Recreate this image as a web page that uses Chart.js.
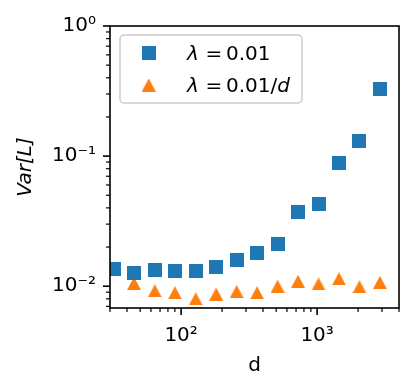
<!DOCTYPE html>
<html lang="en">
<head>
<meta charset="UTF-8">
<title>Var[L] vs d</title>
<script src="https://cdn.jsdelivr.net/npm/chart.js"></script>
<style>
  body { margin: 0; background: #fff; }
</style>
</head>
<body>
<canvas id="varChart" width="415" height="391"></canvas>
<script>
// values
const dims = [32, 45, 64, 90, 128, 181, 256, 362, 512, 724, 1024, 1448, 2048, 2896];
const varConst = [0.0136, 0.0126, 0.0134, 0.0131, 0.0132, 0.0140, 0.0160, 0.0180, 0.0210, 0.0372, 0.0427, 0.0888, 0.131, 0.327];
const varScaled = [0.0134, 0.0105, 0.0092, 0.0089, 0.0080, 0.0087, 0.0091, 0.0089, 0.0100, 0.0109, 0.0104, 0.0114, 0.0099, 0.0107];
const xTickVals = [100, 1000];
const xTickLabels = ['10²', '10³'];
const yTickVals = [0.01, 0.1, 1];
const yTickLabels = ['10⁻²', '10⁻¹', '10⁰'];

const BLUE = '#1f77b4', ORANGE = '#ff7f0e';
const FONT = 'DejaVu Sans';

function marker(shape, color, w, h) {
  const c = document.createElement('canvas');
  c.width = w; c.height = h;
  const g = c.getContext('2d');
  g.fillStyle = color;
  if (shape === 'square') {
    g.fillRect(0, 0, w, h);
  } else {
    g.beginPath();
    g.moveTo(w / 2, 0); g.lineTo(w, h); g.lineTo(0, h);
    g.closePath(); g.fill();
  }
  return c;
}
const squareMk = marker('square', BLUE, 14, 14);
const triMk = marker('triangle', ORANGE, 14, 13);

// 1..9 x 10^n ticks inside the axis range
function logTicks(scale) {
  const out = [];
  const lo = Math.floor(Math.log10(scale.min)), hi = Math.ceil(Math.log10(scale.max));
  for (let e = lo; e <= hi; e++) {
    for (let m = 1; m < 10; m++) {
      const v = +(m * Math.pow(10, e)).toPrecision(6);
      if (v >= scale.min * 0.9999 && v <= scale.max * 1.0001) out.push({ value: v });
    }
  }
  scale.ticks = out;
}

const axisTicks = {
  id: 'axisTicks',
  afterDatasetsDraw(chart) {
    const { ctx, chartArea: a, scales } = chart;
    ctx.save();
    ctx.strokeStyle = '#000';
    scales.x.ticks.forEach(t => {
      const major = xTickVals.includes(t.value);
      const px = scales.x.getPixelForValue(t.value);
      ctx.lineWidth = major ? 1.6 : 1.2;
      ctx.beginPath();
      ctx.moveTo(px, a.bottom);
      ctx.lineTo(px, a.bottom + (major ? 7 : 4));
      ctx.stroke();
    });
    scales.y.ticks.forEach(t => {
      const major = yTickVals.includes(t.value);
      const py = scales.y.getPixelForValue(t.value);
      ctx.lineWidth = major ? 1.6 : 1.2;
      ctx.beginPath();
      ctx.moveTo(a.left, py);
      ctx.lineTo(a.left - (major ? 7 : 4), py);
      ctx.stroke();
    });
    ctx.lineWidth = 1.6;
    ctx.strokeRect(a.left, a.top, a.right - a.left, a.bottom - a.top);
    ctx.restore();
  }
};

// legend with mathtext-like italics
const mathLegend = {
  id: 'mathLegend',
  afterDraw(chart) {
    const ctx = chart.ctx;
    ctx.save();
    ctx.beginPath();
    ctx.roundRect(120, 35, 182, 68, 4);
    ctx.fillStyle = 'rgba(255,255,255,0.8)';
    ctx.fill();
    ctx.strokeStyle = '#cccccc';
    ctx.lineWidth = 1.5;
    ctx.stroke();

    ctx.drawImage(squareMk, 148.7 - 7, 53 - 7);
    ctx.drawImage(triMk, 148.7 - 7, 85 - 6.5);

    ctx.fillStyle = '#000';
    ctx.textBaseline = 'alphabetic';
    const rows = [[60, false], [92, true]];
    rows.forEach(([base, perD]) => {
      ctx.font = `italic 20px ${FONT}`;
      ctx.fillText('λ', 187, base);
      ctx.font = `20px ${FONT}`;
      ctx.fillText('=', 205.5, base);
      let x = 226;
      ctx.fillText('0.01', x, base);
      if (perD) {
        x += ctx.measureText('0.01').width;
        ctx.fillText('/', x, base);
        x += ctx.measureText('/').width;
        ctx.font = `italic 20px ${FONT}`;
        ctx.fillText('d', x, base);
      }
    });
    ctx.restore();
  }
};

const ctx = document.getElementById('varChart').getContext('2d');
new Chart(ctx, {
  type: 'scatter',
  data: {
    datasets: [
      {
        label: 'λ = 0.01',
        data: dims.map((d, i) => ({ x: d, y: varConst[i] })),
        pointStyle: squareMk,
        pointRadius: 7,
        clip: 0
      },
      {
        label: 'λ = 0.01/d',
        data: dims.map((d, i) => ({ x: d, y: varScaled[i] })),
        pointStyle: triMk,
        pointRadius: 7,
        clip: 0
      }
    ]
  },
  options: {
    responsive: false,
    animation: false,
    devicePixelRatio: 1,
    layout: { padding: { top: 24, right: 15, left: 0, bottom: 0 } },
    plugins: { legend: { display: false }, tooltip: { enabled: false } },
    scales: {
      x: {
        type: 'logarithmic',
        min: 30,
        max: 4000,
        grid: { display: false, drawTicks: false },
        border: { display: false },
        afterBuildTicks: logTicks,
        afterFit: s => { s.height = 83; },
        ticks: {
          autoSkip: false,
          maxRotation: 0,
          padding: 16,
          color: '#000',
          font: { family: FONT, size: 20 },
          callback: v => {
            const i = xTickVals.indexOf(v);
            return i >= 0 ? xTickLabels[i] : '';
          }
        },
        title: {
          display: true,
          text: 'd',
          color: '#000',
          font: { family: FONT, size: 20 },
          padding: { top: 0, bottom: 13 }
        }
      },
      y: {
        type: 'logarithmic',
        min: 0.0068,
        max: 1,
        grid: { display: false, drawTicks: false },
        border: { display: false },
        afterBuildTicks: logTicks,
        afterFit: s => { s.width = 110; },
        ticks: {
          autoSkip: false,
          padding: 14,
          color: '#000',
          font: { family: FONT, size: 20 },
          callback: v => {
            const i = yTickVals.indexOf(v);
            return i >= 0 ? yTickLabels[i] : '';
          }
        },
        title: {
          display: true,
          text: 'Var[L]',
          color: '#000',
          font: { family: FONT, size: 20, style: 'italic' },
          padding: { top: 14, bottom: 0 }
        }
      }
    }
  },
  plugins: [axisTicks, mathLegend]
});
</script>
</body>
</html>
